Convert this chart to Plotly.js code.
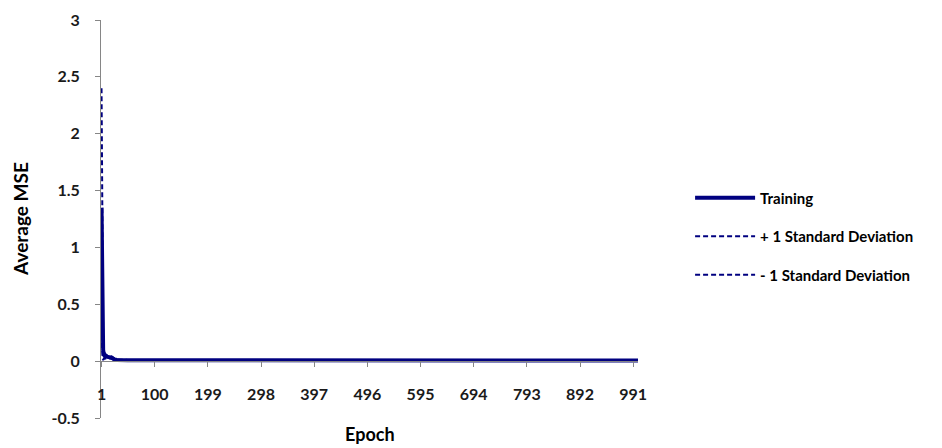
<!DOCTYPE html>
<html>
<head>
<meta charset="utf-8">
<script src="https://cdn.plot.ly/plotly-3.0.1.min.js"></script>
<style>html,body{margin:0;padding:0;background:#fff;}#chart{width:942px;height:448px;}</style>
</head>
<body>
<div id="chart"></div>
<script>
// Epochs at which the averaged curves change visibly; flat afterwards
const epochs = [1, 2, 3, 4, 5, 7, 10, 15, 20, 25, 30, 50, 1000];
const training = [1.35, 0.70, 0.20, 0.10, 0.06, 0.045, 0.040, 0.035, 0.030, 0.015, 0.010, 0.008, 0.006];
const plusSD = [2.40, 1.30, 0.40, 0.20, 0.10, 0.070, 0.055, 0.045, 0.040, 0.022, 0.014, 0.011, 0.008];
const minusSD = [0.30, 0.10, 0.02, 0.01, 0.02, 0.020, 0.025, 0.025, 0.020, 0.008, 0.006, 0.005, 0.004];
const xTickVals = [1, 100, 199, 298, 397, 496, 595, 694, 793, 892, 991];
const yTickVals = [-0.5, 0, 0.5, 1, 1.5, 2, 2.5, 3];
const yTickText = ['-0.5', '0', '0.5', '1', '1.5', '2', '2.5', '3'];

const navy = '#000080';
const font = 'Lato, "Open Sans", sans-serif';

const traces = [
  {x: epochs, y: plusSD, name: '+ 1 Standard Deviation', mode: 'lines', legendgroup: 'b', legendrank: 2,
   line: {color: navy, width: 2, dash: '5px,3px'}},
  {x: epochs, y: minusSD, name: '- 1 Standard Deviation', mode: 'lines', legendgroup: 'c', legendrank: 3,
   line: {color: navy, width: 2, dash: '5px,3px'}},
  {x: epochs, y: training, name: 'Training', mode: 'lines', legendgroup: 'a', legendrank: 1,
   line: {color: navy, width: 4}}
];

const layout = {
  width: 942, height: 448,
  margin: {l: 101, r: 304, t: 20, b: 30},
  paper_bgcolor: '#fff', plot_bgcolor: '#fff',
  font: {family: font, color: '#000', size: 15},
  showlegend: true,
  legend: {x: 1.097, xanchor: 'left', y: 0.594, yanchor: 'top', tracegroupgap: 16, itemwidth: 60,
           font: {family: font, size: 15, weight: 'bold', color: '#000'}, bgcolor: 'rgba(0,0,0,0)'},
  xaxis: {range: [0, 1000], tickvals: xTickVals, ticktext: xTickVals.map(String),
          anchor: 'free', position: 0.1432, showgrid: false, zeroline: false,
          showline: true, linecolor: '#868686', linewidth: 1,
          ticks: 'outside', ticklen: 5, tickcolor: '#868686', ticklabelstandoff: 14,
          tickfont: {family: font, size: 16, weight: 'bold', color: '#1a1a1a'}},
  yaxis: {range: [-0.5, 3], tickvals: yTickVals, ticktext: yTickText, showgrid: false, zeroline: false,
          showline: true, linecolor: '#868686', linewidth: 1,
          ticks: 'outside', ticklen: 5, tickcolor: '#868686', ticklabelstandoff: 12,
          tickfont: {family: font, size: 16, weight: 'bold', color: '#1a1a1a'}},
  annotations: [
    {text: 'Epoch', xref: 'paper', yref: 'paper', x: 0.5, y: -0.04, xanchor: 'center', yanchor: 'middle',
     showarrow: false, font: {family: font, size: 18, weight: 'bold', color: '#000'}},
    {text: 'Average MSE', xref: 'paper', yref: 'paper', x: -0.151, y: 0.5, xanchor: 'center', yanchor: 'middle',
     textangle: -90, showarrow: false, font: {family: font, size: 19, weight: 'bold', color: '#000'}}
  ]
};

Plotly.newPlot('chart', traces, layout, {displayModeBar: false, staticPlot: true});
</script>
</body>
</html>
